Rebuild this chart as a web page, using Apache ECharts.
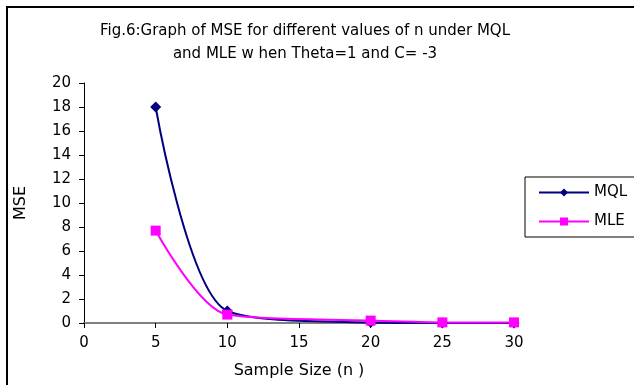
<!DOCTYPE html>
<html>
<head>
<meta charset="utf-8">
<script src="https://cdn.jsdelivr.net/npm/echarts@6/dist/echarts.min.js"></script>
<style>
  html, body { margin: 0; padding: 0; background: #fff; }
  #chart { width: 634px; height: 385px; }
</style>
</head>
<body>
<div id="chart"></div>
<script>
  // sample sizes and MSE values
  const sampleSizes = [5, 10, 20, 25, 30]
  const mqlValues = [18, 1.0, 0.05, 0, 0]
  const mleValues = [7.7, 0.7, 0.2, 0.05, 0.05]
  const seriesNames = ['MQL', 'MLE']

  const chart = echarts.init(document.getElementById('chart'))
  // the original text is stretched wide, DejaVu is the closest fit
  const font = '"DejaVu Sans", sans-serif'

  function pairs(xs, ys) {
    return xs.map((x, i) => [x, ys[i]])
  }

  chart.setOption({
    animation: false,
    title: {
      text: 'Fig.6:Graph of MSE for different values of n under MQL\nand MLE w hen Theta=1 and C= -3',
      left: 300,
      textAlign: 'center',
      top: 15,
      textStyle: {
        fontFamily: font,
        fontWeight: 'normal',
        fontSize: 15,
        lineHeight: 23,
        color: '#000'
      }
    },
    graphic: [{
      type: 'rect',
      shape: { x: 7, y: 7, width: 700, height: 500 },
      style: { fill: 'none', stroke: '#000', lineWidth: 2 },
      silent: true
    }],
    legend: {
      left: 525,
      top: 177,
      orient: 'vertical',
      itemWidth: 50,
      itemHeight: 10,
      itemGap: 14,
      padding: [8, 60, 8, 13],
      borderColor: '#000',
      borderWidth: 1,
      data: seriesNames,
      textStyle: { fontFamily: font, fontSize: 15, color: '#000' }
    },
    grid: {
      left: 84,
      top: 83,
      right: 120,
      bottom: 62
    },
    xAxis: {
      type: 'value',
      min: 0,
      max: 30,
      interval: 5,
      name: 'Sample Size (n )',
      nameLocation: 'middle',
      nameGap: 40,
      nameTextStyle: { fontFamily: font, fontSize: 16, color: '#000' },
      axisLine: { onZero: false, lineStyle: { color: '#808080', width: 2 } },
      axisTick: { show: true, length: 5, lineStyle: { color: '#000', width: 1 } },
      axisLabel: { fontFamily: font, fontSize: 15, color: '#000', margin: 13 },
      splitLine: { show: false }
    },
    yAxis: {
      type: 'value',
      min: 0,
      max: 20,
      interval: 2,
      name: 'MSE',
      nameLocation: 'middle',
      nameGap: 55,
      nameTextStyle: { fontFamily: font, fontSize: 16, color: '#000' },
      axisLine: { show: true, lineStyle: { color: '#000', width: 1 } },
      axisTick: { show: true, length: 5, lineStyle: { color: '#000' } },
      axisLabel: { fontFamily: font, fontSize: 15, color: '#000', margin: 13 },
      splitLine: { show: false }
    },
    series: [{
      name: seriesNames[0],
      type: 'line',
      smooth: 0.3,
      symbol: 'diamond',
      symbolSize: 11,
      color: '#000080',
      lineStyle: { width: 2, color: '#000080' },
      itemStyle: { color: '#000080' },
      data: pairs(sampleSizes, mqlValues)
    }, {
      name: seriesNames[1],
      type: 'line',
      smooth: 0.3,
      symbol: 'rect',
      symbolSize: 10,
      color: '#ff00ff',
      lineStyle: { width: 2, color: '#ff00ff' },
      itemStyle: { color: '#ff00ff' },
      data: pairs(sampleSizes, mleValues)
    }]
  })
</script>
</body>
</html>
